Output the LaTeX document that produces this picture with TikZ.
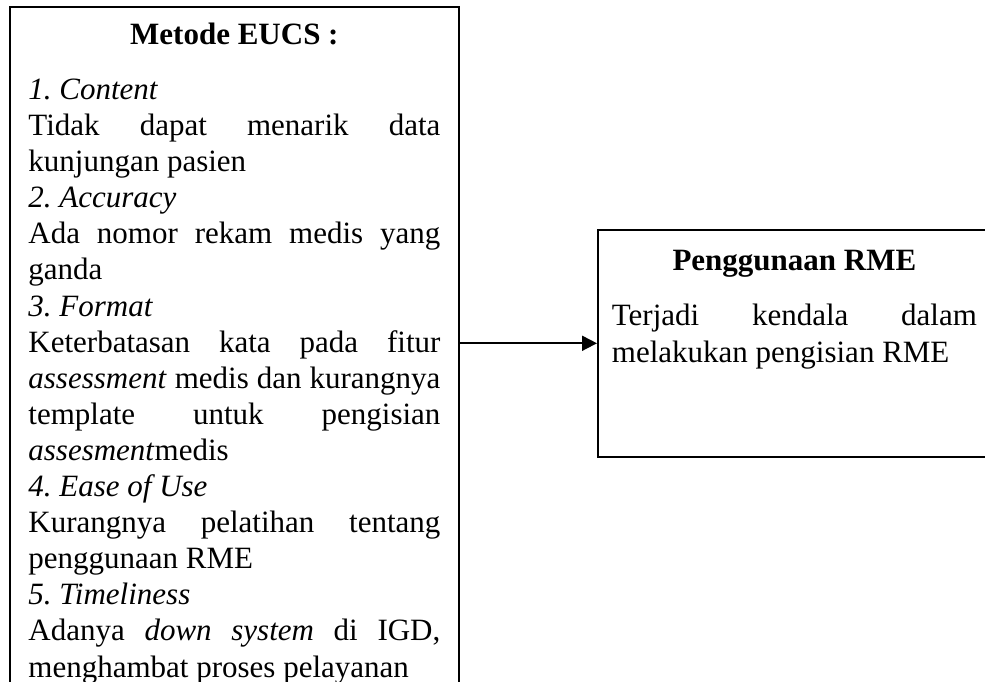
\documentclass[tikz,border=0pt]{standalone}
\usepackage{fontspec}
\setmainfont{Liberation Serif}
\usetikzlibrary{arrows.meta}
\hyphenpenalty=10000
\exhyphenpenalty=10000
\tolerance=10000
\frenchspacing

\begin{document}
\begin{tikzpicture}[x=1pt, y=1pt,
    box/.style={draw=black, line width=1.8pt, anchor=north west, align=justify,
        font=\fontsize{31}{36.1}\selectfont},
    link/.style={line width=1.8pt, -{Triangle[length=15pt, width=15pt]}}]
    \useasboundingbox (0,0) rectangle (985,682);
    \clip (0,0) rectangle (985,682);

    \node[box, text width=412pt, inner xsep=18.5pt, inner ysep=16pt] (eucs) at (9,676) {%
        \parindent=0pt
        {\centering\bfseries Metode EUCS :\par}
        \vspace{19pt}
        \textit{1. Content}\par
        Tidak dapat menarik data\linebreak kunjungan pasien\par
        \textit{2. Accuracy}\par
        Ada nomor rekam medis yang\linebreak ganda\par
        \textit{3. Format}\par
        Keterbatasan kata pada fitur\linebreak \textit{assessment} medis dan kurangnya\linebreak
        template untuk pengisian\linebreak \textit{assesment}medis\par
        \textit{4. Ease of Use}\par
        Kurangnya pelatihan tentang\linebreak penggunaan RME\par
        \textit{5. Timeliness}\par
        Adanya \textit{down system} di IGD,\linebreak menghambat proses pelayanan\par};

    \node[box, text width=365pt, inner xsep=14pt, inner ysep=20.5pt] (rme) at (597,453) {%
        \parindent=0pt \baselineskip=36.5pt
        {\centering\bfseries Penggunaan RME\par}
        \vspace{18.5pt}
        Terjadi kendala dalam\linebreak melakukan pengisian RME\rule[-74pt]{0pt}{74pt}\par};

    \draw[link] (rme.west -| eucs.east) -- (rme.west);
\end{tikzpicture}
\end{document}
